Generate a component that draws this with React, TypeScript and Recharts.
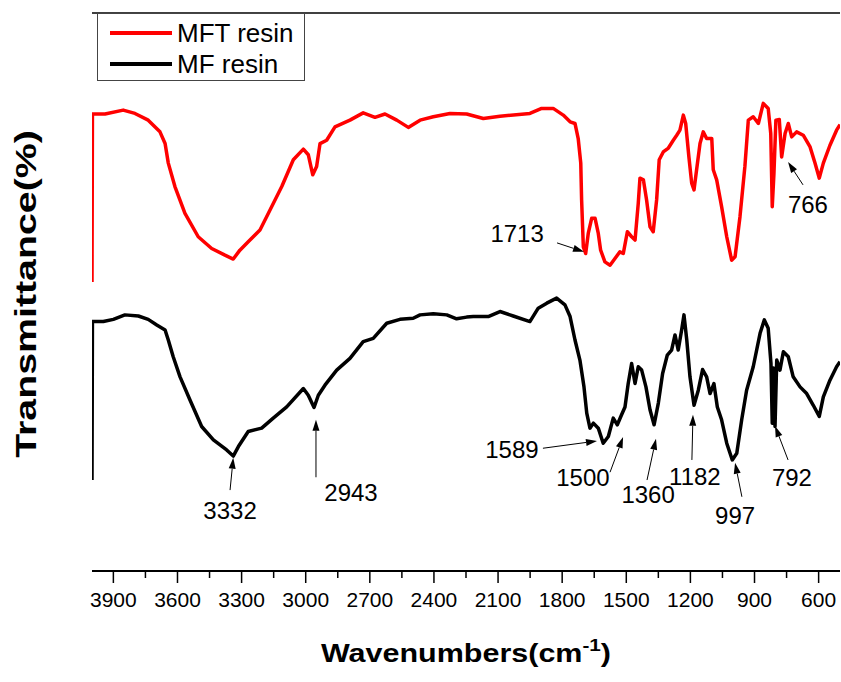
import { LineChart, Line, XAxis, YAxis, ReferenceLine, ReferenceDot, Legend } from 'recharts';

const FONT = '"Liberation Sans", Arial, sans-serif';

// MFT resin (red) spectrum
const mftWavenumber = [
  4000, 3998, 3939, 3854, 3799, 3737, 3682, 3658, 3643, 3612, 3565, 3503, 3440, 3378, 3339, 3308,
  3269, 3214, 3167, 3112, 3058, 3011, 2988, 2967, 2949, 2933, 2902, 2863, 2793, 2731, 2676, 2629,
  2574, 2520, 2465, 2403, 2325, 2247, 2169, 2091, 1951, 1896, 1842, 1795, 1763, 1740, 1725, 1713,
  1709, 1701, 1690, 1678, 1662, 1646, 1631, 1620, 1600, 1576, 1553, 1530, 1514, 1495, 1475, 1459,
  1444, 1436, 1420, 1405, 1389, 1374, 1358, 1346, 1327, 1303, 1280, 1264, 1249, 1233, 1222, 1207,
  1194, 1183, 1171, 1155, 1140, 1124, 1100, 1093, 1077, 1054, 1030, 1007, 991, 968, 945, 929,
  906, 882, 859, 836, 824, 817, 809, 800, 784, 773, 757, 742, 726, 703, 672, 640,
  617, 597, 578, 547, 516, 500,
];
const mftTransmittance = [
  51.8, 81.9, 81.9, 82.6, 82.0, 80.8, 78.7, 76.6, 73.1, 68.9, 64.1, 59.9, 57.8, 56.6, 55.9, 57.5,
  59.0, 61.1, 64.7, 68.9, 73.7, 75.6, 74.6, 71.0, 72.5, 76.6, 77.2, 79.6, 80.8, 82.1, 81.3, 81.9,
  80.8, 79.5, 80.8, 81.4, 82.0, 81.9, 81.1, 81.5, 82.0, 82.9, 82.9, 81.7, 80.5, 80.2, 77.5, 73.1,
  66.5, 58.1, 56.9, 60.5, 63.2, 63.2, 60.5, 57.5, 55.4, 54.8, 56.0, 57.2, 56.9, 60.8, 59.9, 59.3,
  65.9, 70.4, 70.1, 66.5, 61.7, 60.8, 66.5, 73.7, 75.1, 75.8, 77.2, 78.1, 79.0, 81.7, 80.2, 74.2,
  69.5, 68.3, 71.9, 76.6, 78.7, 77.5, 77.5, 71.9, 70.1, 65.3, 59.9, 55.7, 56.3, 63.5, 72.5, 80.8,
  81.4, 80.2, 83.8, 82.9, 78.4, 65.3, 71.3, 80.8, 80.9, 74.2, 78.4, 80.2, 77.8, 78.7, 78.1, 76.0,
  73.1, 70.4, 73.1, 76.3, 79.0, 80.0,
];

// MF resin (black) spectrum
const mfWavenumber = [
  4000, 3998, 3947, 3900, 3846, 3783, 3737, 3697, 3658, 3643, 3620, 3588, 3541, 3487, 3432, 3370,
  3339, 3315, 3269, 3206, 3152, 3089, 3011, 2988, 2961, 2941, 2910, 2855, 2793, 2731, 2684, 2621,
  2559, 2497, 2465, 2403, 2340, 2294, 2247, 2216, 2146, 2091, 2029, 1951, 1912, 1872, 1826, 1787,
  1763, 1740, 1717, 1698, 1685, 1670, 1654, 1631, 1608, 1584, 1561, 1542, 1522, 1506, 1491, 1475,
  1459, 1444, 1428, 1408, 1389, 1370, 1350, 1330, 1308, 1288, 1272, 1257, 1241, 1230, 1217, 1202,
  1183, 1163, 1143, 1124, 1108, 1090, 1074, 1054, 1030, 1004, 983, 960, 937, 906, 874, 854,
  836, 823, 817, 811, 804, 796, 781, 765, 742, 719, 687, 656, 625, 597, 578, 547,
  516, 500,
];
const mfTransmittance = [
  16.3, 44.7, 44.7, 45.1, 45.9, 45.7, 45.1, 44.1, 43.2, 41.4, 38.4, 34.8, 30.6, 25.9, 23.5, 21.7,
  20.6, 22.3, 25.0, 25.6, 27.4, 29.4, 32.7, 31.5, 29.3, 31.5, 33.3, 36.0, 38.1, 41.1, 41.7, 44.4,
  45.1, 45.3, 45.9, 46.1, 45.9, 45.2, 45.5, 45.6, 45.6, 46.5, 45.7, 44.7, 47.1, 48.0, 48.9, 47.7,
  45.6, 41.4, 37.8, 33.0, 28.3, 25.6, 26.5, 25.6, 22.9, 24.1, 27.4, 26.2, 28.0, 29.4, 33.6, 37.2,
  33.6, 36.6, 36.0, 33.0, 28.9, 26.2, 30.1, 35.4, 38.7, 39.6, 42.3, 39.6, 43.2, 45.9, 41.4, 34.8,
  29.7, 32.4, 36.1, 34.8, 31.8, 33.6, 29.4, 27.1, 22.9, 19.9, 21.1, 27.1, 32.4, 36.6, 42.6, 45.0,
  43.5, 37.2, 26.5, 36.4, 25.9, 37.8, 36.0, 39.3, 38.4, 34.8, 33.0, 31.8, 29.7, 27.7, 31.2, 34.2,
  36.6, 37.5,
];

const majorTicks = [3900, 3600, 3300, 3000, 2700, 2400, 2100, 1800, 1500, 1200, 900, 600];
const minorTicks = [3750, 3450, 3150, 2850, 2550, 2250, 1950, 1650, 1350, 1050, 750];

// peak labels: text position and arrow (tail -> head), in axis units
const peakLabels = ['1713', '766', '3332', '2943', '1589', '1500', '1360', '1182', '997', '792'];
const labelWn = [2011, 650, 3354, 2788, 2035, 1703, 1398, 1179, 991, 725];
const labelT = [60.4, 65.6, 10.8, 14.0, 21.7, 16.7, 13.8, 17.0, 9.9, 16.8];
const arrowFromWn = [1824, 673, 3354, 2952, 1890, 1576, 1403, 1193, 959, 743];
const arrowFromT = [58.8, 69.2, 14.5, 16.8, 22.0, 17.7, 16.3, 19.9, 13.3, 19.9];
const arrowToWn = [1698, 743, 3339, 2952, 1637, 1515, 1361, 1188, 991, 804];
const arrowToT = [57.2, 73.3, 20.3, 27.1, 23.3, 24.0, 23.7, 28.0, 19.4, 26.0];

const mftData = mftWavenumber.map((wn, i) => ({ wn, t: mftTransmittance[i] }));
const mfData = mfWavenumber.map((wn, i) => ({ wn, t: mfTransmittance[i] }));

function Arrow(props: any) {
  const { x1, y1, x2, y2 } = props;
  if ([x1, y1, x2, y2].some((v) => typeof v !== 'number' || isNaN(v))) return null;
  const ang = Math.atan2(y2 - y1, x2 - x1);
  const len = 11;
  const half = 3.5;
  const bx = x2 - len * Math.cos(ang);
  const by = y2 - len * Math.sin(ang);
  const px = -Math.sin(ang) * half;
  const py = Math.cos(ang) * half;
  return (
    <g>
      <line x1={x1} y1={y1} x2={bx} y2={by} stroke="#000" strokeWidth={1} />
      <polygon points={`${x2},${y2} ${bx + px},${by + py} ${bx - px},${by - py}`} fill="#000" />
    </g>
  );
}

function WaveTick({ x, y, payload }: any) {
  const major = majorTicks.includes(payload.value);
  return (
    <g>
      <line x1={x} y1={y} x2={x} y2={y + (major ? 12 : 7)} stroke="#000" strokeWidth={1.5} />
      {major && (
        <text x={x} y={y + 36} textAnchor="middle" fontSize={21} fontFamily={FONT} fill="#000">
          {payload.value}
        </text>
      )}
    </g>
  );
}

// both axis titles, drawn from the x-axis label slot
function AxisTitles() {
  return (
    <g>
      <text
        transform="translate(466, 662) scale(1.22, 1)"
        textAnchor="middle"
        fontFamily={FONT}
        fontWeight="bold"
        fontSize={25}
        fill="#000"
      >
        Wavenumbers(cm
        <tspan dy={-11} fontSize={17}>-1</tspan>
        <tspan dy={11}>)</tspan>
      </text>
      <text
        transform="translate(36, 294) rotate(-90) scale(1.31, 1)"
        textAnchor="middle"
        fontFamily={FONT}
        fontWeight="bold"
        fontSize={30}
        fill="#000"
      >
        Transmittance(%)
      </text>
    </g>
  );
}

function LegendBox() {
  return (
    <svg width={208} height={68} style={{ display: 'block' }}>
      <rect x={0.5} y={0.5} width={207} height={67} fill="#fff" stroke="#444" strokeWidth={1} />
      <line x1={13} y1={20} x2={75} y2={20} stroke="#ff0000" strokeWidth={4} />
      <text x={80} y={20} dominantBaseline="central" fontSize={26} fontFamily={FONT} fill="#000">
        MFT resin
      </text>
      <line x1={13} y1={51} x2={75} y2={51} stroke="#000" strokeWidth={4} />
      <text x={80} y={51} dominantBaseline="central" fontSize={26} fontFamily={FONT} fill="#000">
        MF resin
      </text>
    </svg>
  );
}

export default function App() {
  return (
    <div style={{ position: 'absolute', left: 0, top: 0, background: '#fff' }}>
      <LineChart width={841} height={682} margin={{ top: 13, right: 1, bottom: 71, left: 92 }}>
        <XAxis
          dataKey="wn"
          type="number"
          domain={[500, 4000]}
          reversed
          allowDataOverflow
          ticks={[...majorTicks, ...minorTicks]}
          interval={0}
          tickSize={0}
          tickMargin={0}
          tickLine={false}
          tick={<WaveTick />}
          axisLine={{ stroke: '#000', strokeWidth: 2 }}
          height={40}
          label={<AxisTitles />}
        />
        <YAxis
          type="number"
          domain={[0, 100]}
          allowDataOverflow
          width={0}
          tick={false}
          tickLine={false}
          axisLine={{ stroke: '#000', strokeWidth: 2 }}
        />
        <ReferenceLine y={100} stroke="#000" strokeWidth={1.5} />
        <Legend
          layout="horizontal"
          verticalAlign="middle"
          align="center"
          wrapperStyle={{ top: 13, left: 97, width: 208, height: 68 }}
          content={() => <LegendBox />}
        />
        <Line
          data={mftData}
          dataKey="t"
          name="MFT resin"
          type="linear"
          stroke="#ff0000"
          strokeWidth={3.5}
          strokeLinejoin="round"
          dot={false}
          isAnimationActive={false}
        />
        <Line
          data={mfData}
          dataKey="t"
          name="MF resin"
          type="linear"
          stroke="#000"
          strokeWidth={3.5}
          strokeLinejoin="round"
          dot={false}
          isAnimationActive={false}
        />
        {peakLabels.map((lab, i) => (
          <ReferenceLine
            key={`a-${lab}`}
            segment={[
              { x: arrowFromWn[i], y: arrowFromT[i] },
              { x: arrowToWn[i], y: arrowToT[i] },
            ]}
            shape={(p: any) => <Arrow {...p} />}
          />
        ))}
        {peakLabels.map((lab, i) => (
          <ReferenceDot
            key={`l-${lab}`}
            x={labelWn[i]}
            y={labelT[i]}
            r={0}
            fill="none"
            stroke="none"
            label={{ value: lab, position: 'center', fontSize: 24, fill: '#000', fontFamily: FONT }}
          />
        ))}
      </LineChart>
    </div>
  );
}
